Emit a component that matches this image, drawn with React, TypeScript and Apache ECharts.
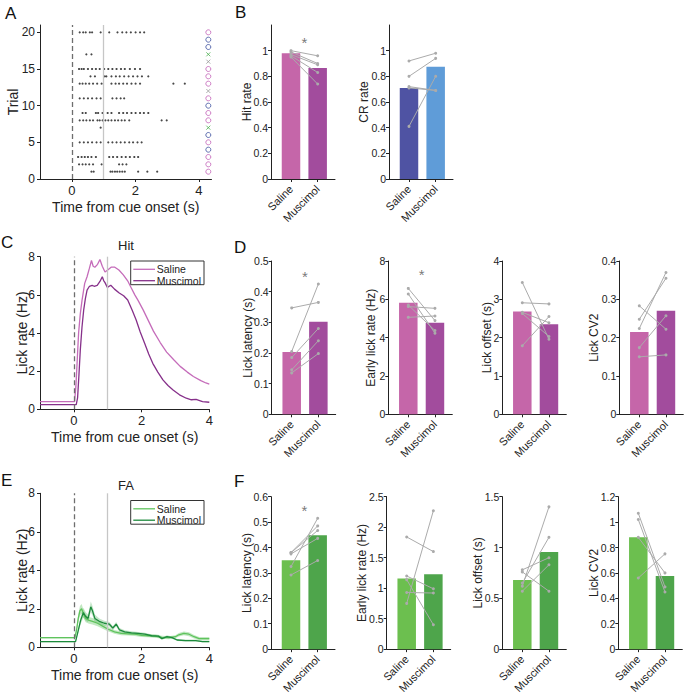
import React, { useEffect, useRef } from "react";
import * as echarts from "echarts";

// ---------------- Panel A: lick raster ----------------
const rasterLicks: number[][] = [
  [0.62, 0.69, 1.22, 1.28, 1.36, 1.43, 1.51, 1.59, 1.67, 2.09, 2.38, 2.69], // trial 1
  [0.23, 0.34, 0.44, 0.55, 0.67, 0.94, 1.49, 1.6, 1.72], // 2
  [0.2, 0.31, 0.41, 0.51, 0.62, 0.76, 1.18, 1.3, 1.43, 1.57, 1.7, 1.83, 1.97, 2.09], // 3
  [], // 4
  [0.25, 0.38, 0.51, 0.64, 0.78, 0.91, 1.15, 1.28, 1.41, 1.54, 1.67, 1.81, 1.93, 2.07, 2.2], // 5
  [], // 6
  [0.91], // 7
  [0.25, 0.36, 0.46, 0.57, 0.67, 0.81, 0.88, 0.97, 1.06, 1.15, 1.25, 1.36, 1.46, 1.57, 1.67, 1.81, 2.83, 2.99], // 8
  [0.34, 0.44, 0.76, 0.83, 0.97, 1.13, 1.25, 1.49, 1.62, 1.74, 1.88, 2.01, 2.15, 2.27, 2.41], // 9
  [], // 10
  [0.25, 0.38, 0.51, 0.64, 0.78, 0.91, 1.28, 1.41, 1.54, 1.65], // 11
  [], // 12
  [0.25, 0.34, 0.44, 0.55, 0.67, 0.8, 0.94, 1.25, 1.38, 1.49, 1.62, 1.74, 1.88, 2.01, 2.15, 3.2, 3.56], // 13
  [0.59, 0.73, 1.04, 1.09, 1.25, 1.39, 1.51, 1.65, 1.79, 1.93, 2.07, 2.21, 2.41], // 14
  [0.23, 0.31, 0.38, 0.51, 0.64, 0.76, 0.88, 1.02, 1.15, 1.28, 1.41, 1.55, 1.67, 1.83, 1.99, 2.15], // 15
  [], // 16
  [0.46, 0.62], // 17
  [], // 18
  [], // 19
  [0.25, 0.36, 0.44, 0.57, 0.64, 0.91, 1.18, 1.44, 1.59, 1.72, 1.86, 2.01, 2.15, 2.28], // 20
];
const trialOutcome = [
  "hit", "hit", "hit", "miss", "hit", "miss", "fa", "hit", "hit", "miss",
  "hit", "cr", "hit", "hit", "hit", "cr", "fa", "miss", "miss", "hit",
];
const outcomeX = 4.3;

// ---------------- Panel C: Hit lick rate ----------------
const hitSaline: [number, number][] = [
  [-1, 0.4], [0.02, 0.4], [0.06, 1.2], [0.1, 2.6], [0.14, 4.0], [0.19, 5.0], [0.24, 5.7],
  [0.32, 6.6], [0.39, 6.95], [0.46, 7.4], [0.52, 7.8], [0.57, 7.5], [0.62, 7.45], [0.7, 7.6],
  [0.77, 7.85], [0.84, 7.5], [0.92, 7.2], [1.0, 7.3], [1.1, 7.45], [1.21, 7.45], [1.33, 7.3],
  [1.46, 7.05], [1.6, 6.7], [1.7, 6.35], [1.8, 6.0], [1.9, 5.7], [2.05, 5.2], [2.2, 4.65],
  [2.35, 4.1], [2.55, 3.5], [2.74, 3.0], [2.95, 2.6], [3.14, 2.25], [3.35, 1.95], [3.53, 1.72],
  [3.75, 1.5], [3.9, 1.38], [4.0, 1.32],
];
const hitMuscimol: [number, number][] = [
  [-1, 0.25], [0.07, 0.25], [0.11, 0.6], [0.15, 1.8], [0.19, 3.1], [0.24, 4.3], [0.29, 5.2],
  [0.34, 5.8], [0.39, 6.25], [0.46, 6.45], [0.54, 6.5], [0.6, 6.45], [0.69, 6.5], [0.77, 6.7],
  [0.84, 6.95], [0.88, 6.75], [0.92, 6.64], [0.99, 6.39], [1.09, 6.5], [1.2, 6.3], [1.34, 6.1],
  [1.47, 5.95], [1.59, 5.73], [1.72, 5.2], [1.84, 4.68], [1.96, 4.05], [2.09, 3.46], [2.21, 2.9],
  [2.33, 2.41], [2.48, 1.95], [2.63, 1.54], [2.78, 1.25], [2.93, 1.01], [3.12, 0.76],
  [3.32, 0.58], [3.47, 0.5], [3.61, 0.52], [3.8, 0.4], [4.0, 0.37],
];

// ---------------- Panel E: FA lick rate (with s.e.m.) ----------------
const faSaline: [number, number][] = [
  [-1, 0.5], [0.03, 0.5], [0.08, 0.9], [0.13, 1.5], [0.18, 1.9], [0.23, 2.0], [0.28, 1.75],
  [0.35, 1.5], [0.45, 1.4], [0.55, 1.35], [0.7, 1.25], [0.85, 1.1], [1.0, 0.95], [1.2, 0.8],
  [1.4, 0.72], [1.6, 0.7], [1.8, 0.68], [2.0, 0.62], [2.2, 0.6], [2.4, 0.58], [2.6, 0.52],
  [2.8, 0.5], [3.0, 0.55], [3.1, 0.65], [3.25, 0.72], [3.4, 0.68], [3.55, 0.55], [3.7, 0.45],
  [3.85, 0.45], [4.0, 0.45],
];
const faSalineErr = [
  0.04, 0.04, 0.15, 0.2, 0.25, 0.25, 0.22, 0.2, 0.18, 0.17, 0.15, 0.13, 0.12, 0.1, 0.1, 0.09,
  0.09, 0.08, 0.08, 0.08, 0.08, 0.08, 0.08, 0.09, 0.1, 0.1, 0.09, 0.08, 0.08, 0.08,
];
const faMuscimol: [number, number][] = [
  [-1, 0.29], [0.05, 0.29], [0.12, 0.8], [0.2, 1.4], [0.28, 1.8], [0.35, 1.6], [0.42, 1.5],
  [0.5, 2.1], [0.55, 1.9], [0.62, 1.5], [0.75, 1.35], [0.9, 1.25], [1.05, 1.2], [1.15, 1.0],
  [1.25, 1.2], [1.35, 0.9], [1.5, 0.8], [1.7, 0.75], [1.9, 0.72], [2.1, 0.68], [2.3, 0.6],
  [2.5, 0.58], [2.6, 0.45], [2.75, 0.55], [2.9, 0.5], [3.05, 0.38], [3.3, 0.35], [3.6, 0.35],
  [3.8, 0.3], [4.0, 0.3],
];
const faMuscimolErr = [
  0.03, 0.03, 0.1, 0.2, 0.25, 0.22, 0.2, 0.28, 0.25, 0.2, 0.15, 0.13, 0.12, 0.1, 0.12, 0.1,
  0.09, 0.08, 0.08, 0.08, 0.07, 0.07, 0.06, 0.07, 0.06, 0.05, 0.05, 0.05, 0.04, 0.04,
];

// ---------------- Bar panels (B, D, F) ----------------
const conditions = ["Saline", "Muscimol"];

const hitRateBars = [0.98, 0.865];
const hitRateSal = [1.0, 0.99, 0.97, 0.96, 0.95];
const hitRateMus = [0.96, 0.9, 0.89, 0.83, 0.74];
const hitRateTicks = [0, 0.2, 0.4, 0.6, 0.8, 1];

const crRateBars = [0.71, 0.875];
const crRateSal = [0.92, 0.8, 0.72, 0.71, 0.41];
const crRateMus = [0.98, 0.94, 0.69, 0.69, 0.8];
const crRateTicks = [0, 0.2, 0.4, 0.6, 0.8, 1];

const hitLatBars = [0.203, 0.302];
const hitLatSal = [0.347, 0.205, 0.185, 0.145, 0.135];
const hitLatMus = [0.365, 0.425, 0.28, 0.24, 0.198];
const hitLatTicks = [0, 0.1, 0.2, 0.3, 0.4, 0.5];

const hitEarlyBars = [5.82, 4.78];
const hitEarlySal = [6.57, 6.28, 5.7, 5.62, 5.06];
const hitEarlyMus = [4.89, 4.23, 4.37, 5.53, 5.13];
const hitEarlyTicks = [0, 2, 4, 6, 8];

const hitOffBars = [2.68, 2.35];
const hitOffSal = [3.44, 2.91, 2.66, 2.63, 1.79];
const hitOffMus = [1.96, 2.88, 2.39, 2.03, 2.55];
const hitOffTicks = [0, 1, 2, 3, 4];

const hitCvBars = [0.215, 0.27];
const hitCvSal = [0.283, 0.248, 0.224, 0.174, 0.15];
const hitCvMus = [0.222, 0.355, 0.37, 0.257, 0.155];
const hitCvTicks = [0, 0.1, 0.2, 0.3, 0.4];

const faLatBars = [0.35, 0.448];
const faLatSal = [0.38, 0.375, 0.325, 0.292, 0.38];
const faLatMus = [0.467, 0.436, 0.515, 0.349, 0.485];
const faLatTicks = [0, 0.1, 0.2, 0.3, 0.4, 0.5, 0.6];

const faEarlyBars = [1.16, 1.23];
const faEarlySal = [1.84, 0.75, 1.2, 0.93, 1.14];
const faEarlyMus = [1.6, 2.27, 0.99, 0.92, 0.4];
const faEarlyTicks = [0, 0.5, 1, 1.5, 2, 2.5];

const faOffBars = [0.68, 0.955];
const faOffSal = [0.62, 0.65, 0.78, 0.57, 0.76];
const faOffMus = [1.4, 1.1, 0.9, 0.83, 0.57];
const faOffTicks = [0, 0.5, 1, 1.5];

const faCvBars = [0.88, 0.575];
const faCvSal = [1.07, 1.02, 0.88, 0.56];
const faCvMus = [0.49, 0.45, 0.6, 0.75];
const faCvTicks = [0, 0.2, 0.4, 0.6, 0.8, 1, 1.2];

// ---------------- styling ----------------
const FONT = "'Liberation Sans', Arial, Helvetica, sans-serif";
const AX = "#222";
const PINK_BAR = "#c566a9";
const PURPLE_BAR = "#a24c9d";
const NAVY_BAR = "#4f53a3";
const SKY_BAR = "#5f9cd8";
const LGREEN_BAR = "#6cbf4f";
const DGREEN_BAR = "#4ea54b";
const C_SAL = "#c56cba";
const C_MUS = "#86308a";
const E_SAL = "#5fc35d";
const E_MUS = "#1c8a3c";
const PAIR = "#ababab";

const OUTCOME_STYLE: Record<string, { symbol: string; color: string; size: number }> = {
  hit: { symbol: "circle", color: "#c25fb6", size: 5 },
  miss: { symbol: "circle", color: "#3b4f9e", size: 5 },
  fa: { symbol: "path://M0,0L10,10M10,0L0,10", color: "#4caf50", size: 4 },
  cr: { symbol: "path://M0,0L10,10M10,0L0,10", color: "#9a9a9a", size: 4 },
};

export default function App() {
  const ref = useRef<HTMLDivElement>(null);

  useEffect(() => {
    if (!ref.current) return;
    const chart = echarts.init(ref.current, null, { renderer: "svg" });

    const grids: any[] = [
      { left: 40, top: 25, width: 171.5, height: 154 }, // 0 A
      { left: 271, top: 25, width: 64, height: 154 }, // 1 B hit
      { left: 389, top: 25, width: 64, height: 154 }, // 2 B CR
      { left: 40, top: 256.7, width: 169.3, height: 152.6 }, // 3 C
      { left: 271.7, top: 261, width: 64, height: 153.3 }, // 4 D latency
      { left: 388.3, top: 261, width: 64, height: 153.3 }, // 5 D early
      { left: 502.3, top: 261, width: 64, height: 153.3 }, // 6 D offset
      { left: 619.3, top: 261, width: 64, height: 153.3 }, // 7 D cv2
      { left: 40, top: 493.3, width: 169.3, height: 154 }, // 8 E
      { left: 271, top: 496.7, width: 64, height: 152.6 }, // 9 F latency
      { left: 386.7, top: 496.7, width: 64, height: 152.6 }, // 10 F early
      { left: 502.3, top: 496.7, width: 64, height: 152.6 }, // 11 F offset
      { left: 618.3, top: 496.7, width: 64, height: 152.6 }, // 12 F cv2
    ];

    const xAxes: any[] = [];
    const yAxes: any[] = [];
    const series: any[] = [];

    const axisBase = (gi: number) => ({
      gridIndex: gi,
      type: "value",
      splitLine: { show: false },
      nameMoveOverlap: false,
      axisLine: { show: true, onZero: false, lineStyle: { color: AX, width: 1 } },
      axisTick: { show: true, length: 3, lineStyle: { color: AX, width: 1 } },
    });

    const vlines = () => ({
      symbol: ["none", "none"],
      silent: true,
      label: { show: false },
      emphasis: { disabled: true },
      data: [
        { xAxis: 0, lineStyle: { color: "#6e6e6e", width: 1.3, type: [5, 3], opacity: 1 } },
        { xAxis: 1, lineStyle: { color: "#c6c6c6", width: 1.3, type: "solid", opacity: 1 } },
      ],
    });

    // ---- time-course axes (A, C, E)
    const timeAxes = (gi: number, xmax: number, yTicks: number[], ymax: number, yName: string, yNameGap: number) => {
      xAxes[gi] = {
        ...axisBase(gi),
        min: -1,
        max: xmax,
        axisTick: { show: true, length: 3, customValues: [0, 2, 4], lineStyle: { color: AX } },
        axisLabel: { customValues: [0, 2, 4], fontSize: 13, color: AX, margin: 5 },
        name: "Time from cue onset (s)",
        nameLocation: "middle",
        nameGap: 21,
        nameTextStyle: { fontSize: 14, color: AX },
      };
      yAxes[gi] = {
        ...axisBase(gi),
        min: 0,
        max: ymax,
        axisTick: { show: true, length: 3, customValues: yTicks, lineStyle: { color: AX } },
        axisLabel: { customValues: yTicks, fontSize: 12, color: AX, margin: 5 },
        name: yName,
        nameLocation: "middle",
        nameGap: yNameGap,
        nameTextStyle: { fontSize: 14, color: AX },
      };
    };

    timeAxes(0, 4.4, [0, 5, 10, 15, 20], 21, "Trial", 20);
    timeAxes(3, 4, [0, 2, 4, 6, 8], 8, "Lick rate (Hz)", 11);
    timeAxes(8, 4, [0, 2, 4, 6, 8], 8, "Lick rate (Hz)", 11);

    // ---- Panel A series
    const rasterPts: number[][] = [];
    rasterLicks.forEach((licks, i) => licks.forEach((t) => rasterPts.push([t, i + 1])));
    series.push({
      type: "scatter",
      xAxisIndex: 0,
      yAxisIndex: 0,
      data: rasterPts,
      symbol: "circle",
      symbolSize: 2.2,
      itemStyle: { color: "#1a1a1a" },
      markLine: vlines(),
      silent: true,
    });
    Object.keys(OUTCOME_STYLE).forEach((k) => {
      const st = OUTCOME_STYLE[k];
      const pts = trialOutcome
        .map((o, i) => (o === k ? [outcomeX, i + 1] : null))
        .filter((p) => p !== null);
      series.push({
        type: "scatter",
        xAxisIndex: 0,
        yAxisIndex: 0,
        data: pts,
        symbol: st.symbol,
        symbolSize: st.size,
        itemStyle: { color: "none", borderColor: st.color, borderWidth: 1 },
        silent: true,
      });
    });

    // ---- Panel C series
    series.push({
      type: "line", xAxisIndex: 3, yAxisIndex: 3, data: hitSaline, showSymbol: false,
      lineStyle: { color: C_SAL, width: 1.3 }, itemStyle: { color: C_SAL }, markLine: vlines(), silent: true,
    });
    series.push({
      type: "line", xAxisIndex: 3, yAxisIndex: 3, data: hitMuscimol, showSymbol: false,
      lineStyle: { color: C_MUS, width: 1.3 }, itemStyle: { color: C_MUS }, silent: true,
    });

    // ---- Panel E series (s.e.m. bands as polygons + lines)
    const band = (pts: [number, number][], err: number[], color: string) => ({
      type: "custom",
      xAxisIndex: 8,
      yAxisIndex: 8,
      silent: true,
      z: 1,
      data: pts.map((p, i) => [p[0], p[1] - err[i], p[1] + err[i]]),
      encode: { x: 0, y: [1, 2] },
      renderItem: (params: any, api: any) => {
        if (params.dataIndex !== 0) return { type: "group", children: [] };
        const upper = pts.map((p, i) => api.coord([p[0], p[1] + err[i]]));
        const lower = pts.map((p, i) => api.coord([p[0], p[1] - err[i]])).reverse();
        return {
          type: "polygon",
          shape: { points: upper.concat(lower) },
          style: { fill: color, stroke: "none" },
        };
      },
    });
    series.push(band(faSaline, faSalineErr, "rgba(120,205,120,0.45)"));
    series.push(band(faMuscimol, faMuscimolErr, "rgba(90,180,100,0.35)"));
    series.push({
      type: "line", xAxisIndex: 8, yAxisIndex: 8, data: faSaline, showSymbol: false,
      lineStyle: { color: E_SAL, width: 1.3 }, itemStyle: { color: E_SAL }, markLine: vlines(), silent: true,
    });
    series.push({
      type: "line", xAxisIndex: 8, yAxisIndex: 8, data: faMuscimol, showSymbol: false,
      lineStyle: { color: E_MUS, width: 1.3 }, itemStyle: { color: E_MUS }, silent: true,
    });

    // ---- bar panels
    const barPanel = (
      gi: number, name: string, nameGap: number, ticks: number[], ymax: number,
      bars: number[], sal: number[], mus: number[], colors: string[], star: number | null
    ) => {
      xAxes[gi] = {
        ...axisBase(gi),
        min: 0.25,
        max: 2.65,
        axisTick: { show: true, length: 3, customValues: [1, 2], lineStyle: { color: AX } },
        axisLabel: {
          customValues: [1, 2],
          formatter: (v: number) => conditions[Math.round(v) - 1],
          rotate: 45,
          fontSize: 11,
          color: AX,
          margin: 8,
        },
      };
      yAxes[gi] = {
        ...axisBase(gi),
        min: 0,
        max: ymax,
        axisTick: { show: true, length: 3, customValues: ticks, lineStyle: { color: AX } },
        axisLabel: { customValues: ticks, fontSize: 10.5, color: AX, margin: 3 },
        name,
        nameLocation: "middle",
        nameGap,
        nameTextStyle: { fontSize: 12, color: AX },
      };
      series.push({
        type: "bar",
        xAxisIndex: gi,
        yAxisIndex: gi,
        barWidth: 18.5,
        silent: true,
        data: bars.map((v, i) => ({ value: [i + 1, v], itemStyle: { color: colors[i] } })),
      });
      sal.forEach((s, i) => {
        series.push({
          type: "line",
          xAxisIndex: gi,
          yAxisIndex: gi,
          data: [[1, s], [2, mus[i]]],
          symbol: "circle",
          symbolSize: 3,
          showSymbol: true,
          silent: true,
          lineStyle: { color: PAIR, width: 1 },
          itemStyle: { color: PAIR },
        });
      });
      if (star !== null) {
        series.push({
          type: "scatter",
          xAxisIndex: gi,
          yAxisIndex: gi,
          data: [[1.5, star]],
          symbol: "circle",
          symbolSize: 1,
          silent: true,
          itemStyle: { color: "rgba(0,0,0,0)" },
          label: { show: true, position: "inside", formatter: "*", fontSize: 15, color: "#555" },
        });
      }
    };

    barPanel(1, "Hit rate", 18, hitRateTicks, 1.2, hitRateBars, hitRateSal, hitRateMus, [PINK_BAR, PURPLE_BAR], 1.06);
    barPanel(2, "CR rate", 19, crRateTicks, 1.2, crRateBars, crRateSal, crRateMus, [NAVY_BAR, SKY_BAR], null);
    barPanel(4, "Lick latency (s)", 18, hitLatTicks, 0.5, hitLatBars, hitLatSal, hitLatMus, [PINK_BAR, PURPLE_BAR], 0.45);
    barPanel(5, "Early lick rate (Hz)", 11, hitEarlyTicks, 8, hitEarlyBars, hitEarlySal, hitEarlyMus, [PINK_BAR, PURPLE_BAR], 7.3);
    barPanel(6, "Lick offset (s)", 9, hitOffTicks, 4, hitOffBars, hitOffSal, hitOffMus, [PINK_BAR, PURPLE_BAR], null);
    barPanel(7, "Lick CV2", 19, hitCvTicks, 0.4, hitCvBars, hitCvSal, hitCvMus, [PINK_BAR, PURPLE_BAR], null);
    barPanel(9, "Lick latency (s)", 18, faLatTicks, 0.6, faLatBars, faLatSal, faLatMus, [LGREEN_BAR, DGREEN_BAR], 0.545);
    barPanel(10, "Early lick rate (Hz)", 19, faEarlyTicks, 2.5, faEarlyBars, faEarlySal, faEarlyMus, [LGREEN_BAR, DGREEN_BAR], null);
    barPanel(11, "Lick offset (s)", 18, faOffTicks, 1.5, faOffBars, faOffSal, faOffMus, [LGREEN_BAR, DGREEN_BAR], null);
    barPanel(12, "Lick CV2", 18, faCvTicks, 1.2, faCvBars, faCvSal, faCvMus, [LGREEN_BAR, DGREEN_BAR], null);

    // ---- graphic: panel letters, titles, legends
    const letter = (t: string, x: number, y: number) => ({
      type: "text",
      x,
      y,
      style: { text: t, fontSize: 17, fontFamily: FONT, fill: "#111", align: "left", verticalAlign: "middle" },
    });
    const txt = (t: string, x: number, y: number, size: number, align = "center") => ({
      type: "text",
      x,
      y,
      z: 100,
      style: { text: t, fontSize: size, fontFamily: FONT, fill: AX, align, verticalAlign: "middle" },
    });
    const legend = (x: number, y: number, c1: string, c2: string) => [
      {
        type: "rect",
        z: 99,
        shape: { x, y, width: 73.3, height: 23.7 },
        style: { fill: "#fff", stroke: "#333", lineWidth: 1 },
      },
      { type: "line", z: 100, shape: { x1: x + 2.6, y1: y + 8.3, x2: x + 24.3, y2: y + 8.3 }, style: { stroke: c1, lineWidth: 1.3 } },
      { type: "line", z: 100, shape: { x1: x + 2.6, y1: y + 19.7, x2: x + 24.3, y2: y + 19.7 }, style: { stroke: c2, lineWidth: 1.3 } },
      txt("Saline", x + 26, y + 8.3, 10.5, "left"),
      txt("Muscimol", x + 26, y + 19.7, 10.5, "left"),
    ];

    const graphic: any[] = [
      letter("A", 5, 13),
      letter("B", 235, 12.5),
      letter("C", 1, 242.5),
      letter("D", 234, 247),
      letter("E", 1, 480),
      letter("F", 234, 481),
      txt("Hit", 126, 245, 13),
      txt("FA", 126, 485, 13),
      ...legend(130.7, 261, C_SAL, C_MUS),
      ...legend(130.7, 500.5, E_SAL, E_MUS),
    ];

    chart.setOption({
      animation: false,
      backgroundColor: "#fff",
      textStyle: { fontFamily: FONT },
      grid: grids,
      xAxis: xAxes,
      yAxis: yAxes,
      series,
      graphic,
    });

    return () => chart.dispose();
  }, []);

  return (
    <div
      ref={ref}
      style={{ position: "fixed", left: 0, top: 0, width: 684, height: 696, background: "#fff" }}
    />
  );
}
